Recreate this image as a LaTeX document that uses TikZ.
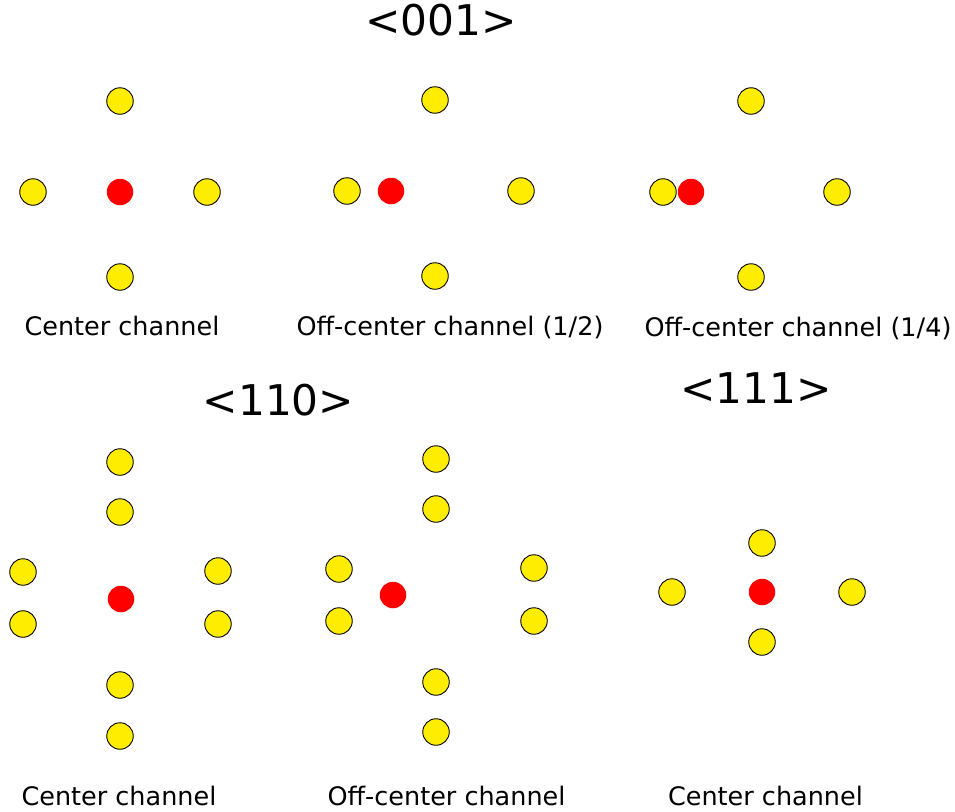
\documentclass[tikz,border=0pt]{standalone}
\usepackage{xcolor}
\usepackage{fontspec}
\setmainfont{DejaVu Sans}
\usepackage{tikz}
\definecolor{atomYellow}{HTML}{FFED00}
\definecolor{ionRed}{HTML}{FF0000}

\begin{document}
\begin{tikzpicture}[
  x=1pt, y=-1pt,
  atom/.style={circle, draw=black, line width=0.9pt, fill=atomYellow, minimum size=26.5pt, inner sep=0pt},
  ion/.style={circle, fill=ionRed, minimum size=26.5pt, inner sep=0pt},
  caption/.style={anchor=base, inner sep=0pt, font=\fontsize{25.5}{30}\selectfont},
  heading/.style={anchor=base, inner sep=0pt, font=\fontsize{42.3}{50}\selectfont}
]
\useasboundingbox (0,0) rectangle (955,811);
% <001> direction
\node[heading] (h001) at (441,35) {<001>};
% center channel
\node[atom] (a1t) at (120,101) {};
\node[atom] (a1l) at (33,192) {};
\node[ion]  (a1i) at (120,192) {};
\node[atom] (a1r) at (207,192) {};
\node[atom] (a1b) at (120,277) {};
\node[caption] (a1cap) at (122,335) {Center channel};
% off-center channel (1/2)
\node[atom] (a2t) at (435,100) {};
\node[atom] (a2l) at (347,191) {};
\node[ion]  (a2i) at (391,191) {};
\node[atom] (a2r) at (521,191) {};
\node[atom] (a2b) at (435,276) {};
\node[caption] (a2cap) at (450,335) {Off-center channel (1/2)};
% off-center channel (1/4)
\node[atom] (a3t) at (751,101) {};
\node[atom] (a3l) at (663,192) {};
\node[ion]  (a3i) at (691,192) {};
\node[atom] (a3r) at (837,192) {};
\node[atom] (a3b) at (751,277) {};
\node[caption] (a3cap) at (798,336) {Off-center channel (1/4)};
% <110> direction
\node[heading] (h110) at (278.5,415) {<110>};
% center channel
\node[atom] (b1t1) at (120,462) {};
\node[atom] (b1t2) at (120,512) {};
\node[atom] (b1l1) at (23,572) {};
\node[atom] (b1l2) at (23,624) {};
\node[ion]  (b1i)  at (121,599) {};
\node[atom] (b1r1) at (218,571) {};
\node[atom] (b1r2) at (218,624) {};
\node[atom] (b1b1) at (120,685) {};
\node[atom] (b1b2) at (120,736) {};
\node[caption] (b1cap) at (119,805) {Center channel};
% off-center channel
\node[atom] (b2t1) at (436,459) {};
\node[atom] (b2t2) at (436,509) {};
\node[atom] (b2l1) at (339,569) {};
\node[atom] (b2l2) at (339,621) {};
\node[ion]  (b2i)  at (393,595) {};
\node[atom] (b2r1) at (534,568) {};
\node[atom] (b2r2) at (534,621) {};
\node[atom] (b2b1) at (436,682) {};
\node[atom] (b2b2) at (436,732) {};
\node[caption] (b2cap) at (446.5,805) {Off-center channel};
% <111> direction
\node[heading] (h111) at (756,403) {<111>};
\node[atom] (c1t) at (762,543) {};
\node[atom] (c1l) at (672,592) {};
\node[ion]  (c1i) at (762,592) {};
\node[atom] (c1r) at (852,592) {};
\node[atom] (c1b) at (762,642) {};
\node[caption] (c1cap) at (765.5,805) {Center channel};
\end{tikzpicture}
\end{document}
